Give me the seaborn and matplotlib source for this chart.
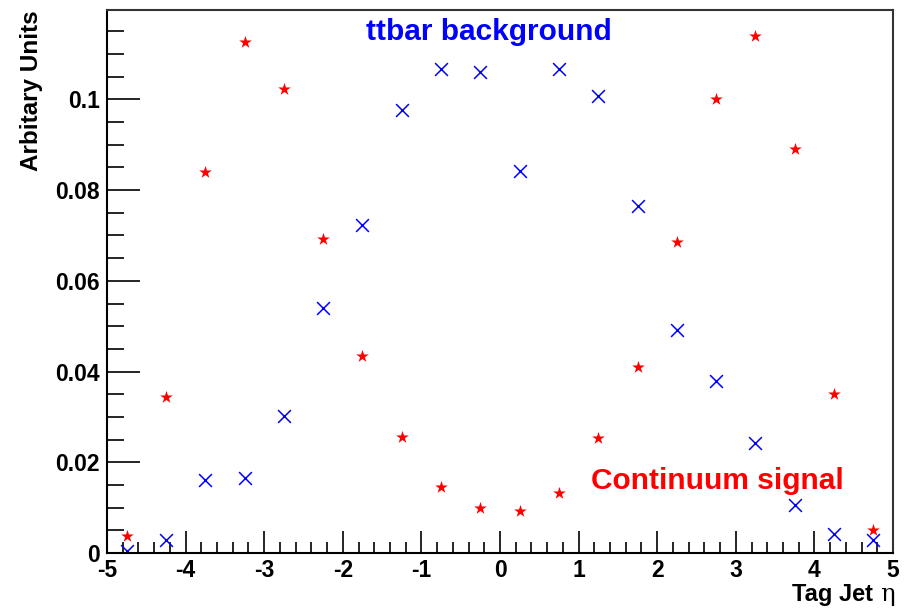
import matplotlib
matplotlib.use("Agg")
import matplotlib.pyplot as plt
import seaborn as sns
import pandas as pd
from matplotlib.ticker import MultipleLocator, FuncFormatter

eta = [-4.75, -4.25, -3.75, -3.25, -2.75, -2.25, -1.75, -1.25, -0.75, -0.25,
       0.25, 0.75, 1.25, 1.75, 2.25, 2.75, 3.25, 3.75, 4.25, 4.75]
signal = [0.0037, 0.0344, 0.0840, 0.1126, 0.1023, 0.0692, 0.0434, 0.0256, 0.0145, 0.0099,
          0.0093, 0.0132, 0.0253, 0.0410, 0.0685, 0.1001, 0.1140, 0.0890, 0.0350, 0.0050]
ttbar = [0.0004, 0.0029, 0.0161, 0.0165, 0.0302, 0.0540, 0.0723, 0.0976, 0.1067, 0.1060,
         0.0842, 0.1067, 0.1007, 0.0765, 0.0492, 0.0379, 0.0242, 0.0106, 0.0042, 0.0029]

df = pd.DataFrame({"eta": eta * 2,
                   "value": signal + ttbar,
                   "sample": ["Continuum signal"] * len(eta) + ["ttbar background"] * len(eta)})

sns.set_style("white")
plt.rcParams['font.family'] = ['Liberation Sans', 'DejaVu Sans']
plt.rcParams['font.weight'] = 'bold'
for k in ["text.color", "axes.labelcolor", "xtick.color", "ytick.color", "axes.edgecolor"]:
    plt.rcParams[k] = "black"

fig = plt.figure(figsize=(9.13, 6.08), dpi=100)
ax = fig.add_axes([107 / 913, 1 - 553 / 608, (893 - 107) / 913, (553 - 10) / 608])

sns.scatterplot(data=df[df["sample"] == "Continuum signal"], x="eta", y="value",
                marker="*", color="#ff0000", s=90, linewidth=0, ax=ax, legend=False)
sns.scatterplot(data=df[df["sample"] == "ttbar background"], x="eta", y="value",
                marker="x", color="#0000ff", s=85, linewidth=1.1, ax=ax, legend=False)

ax.set_xlim(-5, 5)
ax.set_ylim(0, 0.1197)
ax.xaxis.set_major_locator(MultipleLocator(1))
ax.xaxis.set_minor_locator(MultipleLocator(0.2))
ax.yaxis.set_major_locator(MultipleLocator(0.02))
ax.yaxis.set_minor_locator(MultipleLocator(0.005))
ax.yaxis.set_major_formatter(FuncFormatter(lambda v, p: "0" if abs(v) < 1e-12 else f"{v:g}"))
ax.xaxis.set_major_formatter(FuncFormatter(lambda v, p: f"{v:g}"))
ax.tick_params(axis="x", which="major", direction="in", length=16, width=1.2, labelsize=16.5, pad=4)
ax.tick_params(axis="x", which="minor", direction="in", length=8, width=1.2)
ax.tick_params(axis="y", which="major", direction="in", length=24, width=1.2, labelsize=16.5, pad=5)
ax.tick_params(axis="y", which="minor", direction="in", length=12, width=1.2)
ax.tick_params(bottom=True, left=True, top=False, right=False, which="both")
for lab in ax.get_xticklabels() + ax.get_yticklabels():
    lab.set_fontweight("bold")
for sp in ax.spines.values():
    sp.set_linewidth(1.5)
    sp.set_color("black")
ax.spines["top"].set_color("#333333")
ax.spines["right"].set_color("#333333")

ax.set_xlabel("")
ax.set_ylabel("")
fig.text(873 / 913, 1 - 601 / 608, "Tag Jet", ha="right", va="baseline",
         fontsize=17, fontweight="bold")
fig.text(895 / 913, 1 - 601 / 608, "η", ha="right", va="baseline",
         fontsize=17.5, fontweight="normal", family=["DejaVu Serif"])
fig.text(32 / 913, 1 - 10 / 608, "Arbitary Units", ha="center", va="top",
         rotation=90, fontsize=17.5, fontweight="bold")

ax.text(489 / 913, 1 - 32 / 608, "ttbar background", transform=fig.transFigure,
        ha="center", va="center", color="#0000ff", fontsize=21.5, fontweight="bold")
ax.text(717 / 913, 1 - 481 / 608, "Continuum signal", transform=fig.transFigure,
        ha="center", va="center", color="#ff0000", fontsize=21.5, fontweight="bold")

fig.savefig("out.png", dpi=100)
